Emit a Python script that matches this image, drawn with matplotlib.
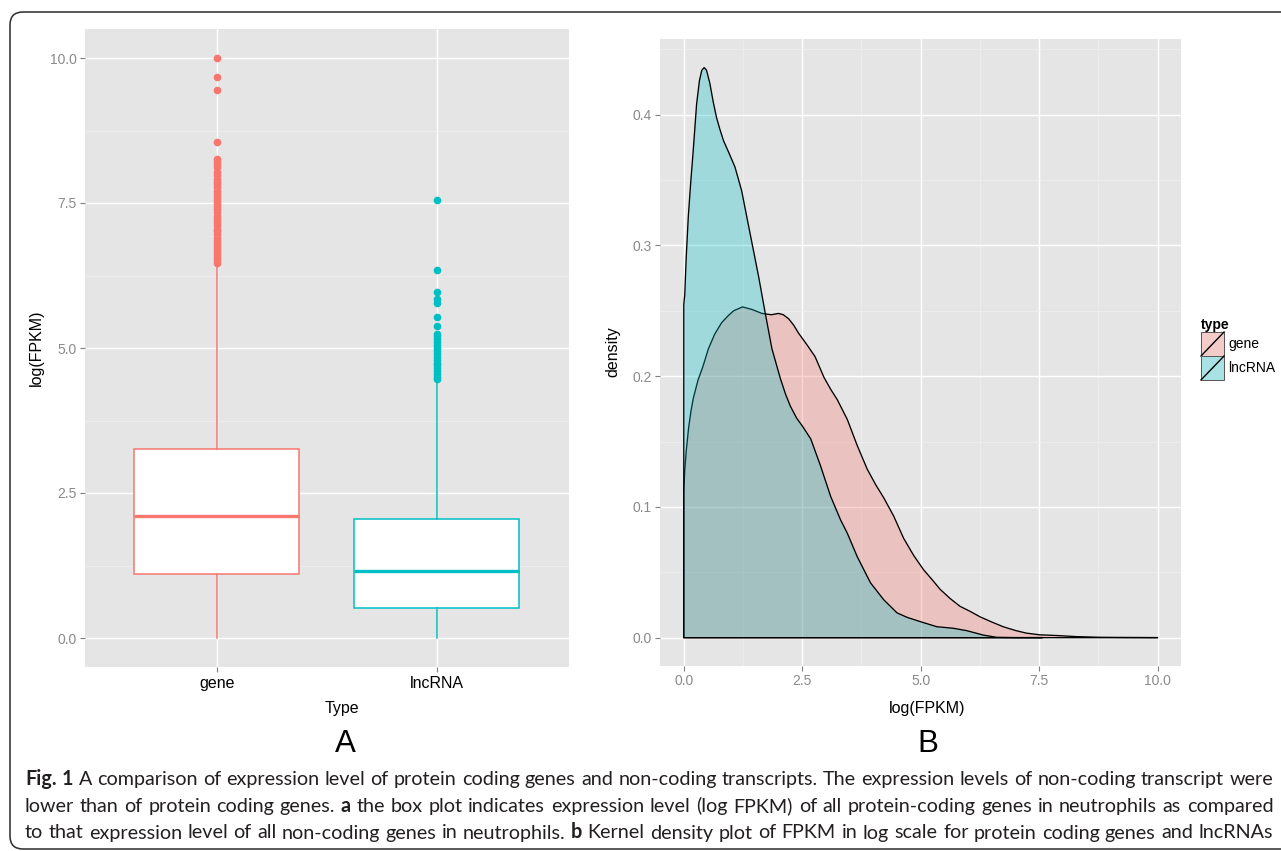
import matplotlib
matplotlib.use("Agg")
import matplotlib.pyplot as plt
from matplotlib.patches import Rectangle, Patch, FancyBboxPatch
from matplotlib.lines import Line2D
from matplotlib.legend_handler import HandlerBase
from matplotlib.ticker import MultipleLocator, FormatStrFormatter
from matplotlib.transforms import IdentityTransform
from matplotlib.colors import to_rgb

# ---------------------------------------------------------------------------
# data
# ---------------------------------------------------------------------------
categories = ["gene", "lncRNA"]
colors = ["#F8766D", "#00BFC4"]

# panel A: box plot of log(FPKM)
box_q1 = [1.10, 0.52]
box_median = [2.10, 1.15]
box_q3 = [3.26, 2.06]
whisker_low = [0.0, 0.0]
whisker_high = [6.45, 4.40]
gene_outliers = [10.0, 9.68, 9.44, 8.55, 8.26, 8.22, 8.17, 8.12, 8.03, 7.98,
                 7.92, 7.87, 7.82, 7.77, 7.71, 7.66, 7.61, 7.56, 7.50, 7.45,
                 7.40, 7.34, 7.28, 7.22, 7.17, 7.12, 7.06, 7.01, 6.96, 6.90,
                 6.85, 6.80, 6.75, 6.70, 6.65, 6.60, 6.55, 6.51, 6.47]
lnc_outliers = [7.56, 6.34, 5.97, 5.84, 5.78, 5.53, 5.38, 5.25, 5.20, 5.15,
                5.10, 5.05, 5.00, 4.95, 4.90, 4.85, 4.80, 4.75, 4.70, 4.65,
                4.60, 4.55, 4.50, 4.46]
box_yticks = [0.0, 2.5, 5.0, 7.5, 10.0]

# panel B: kernel density of log(FPKM)
gene_x = [0.0, 0.02, 0.05, 0.1, 0.15, 0.2, 0.3, 0.4, 0.52, 0.65, 0.8, 0.93,
          1.05, 1.24, 1.44, 1.65, 1.85, 2.0, 2.1, 2.21, 2.32, 2.42, 2.6,
          2.77, 2.96, 3.1, 3.24, 3.45, 3.66, 3.87, 4.05, 4.22, 4.43, 4.64,
          4.85, 5.06, 5.25, 5.41, 5.62, 5.83, 6.05, 6.25, 6.5, 6.74, 7.0,
          7.23, 7.51, 7.85, 8.3, 8.8, 9.3, 10.0]
gene_y = [0.112, 0.128, 0.142, 0.160, 0.173, 0.183, 0.197, 0.207, 0.221,
          0.232, 0.241, 0.246, 0.250, 0.253, 0.251, 0.248, 0.247, 0.248,
          0.247, 0.244, 0.239, 0.233, 0.224, 0.215, 0.199, 0.190, 0.182,
          0.167, 0.147, 0.129, 0.117, 0.107, 0.093, 0.076, 0.063, 0.052,
          0.044, 0.037, 0.030, 0.024, 0.020, 0.016, 0.012, 0.0084, 0.0055,
          0.0035, 0.0022, 0.0017, 0.0008, 0.0003, 0.0002, 0.0001]
lnc_x = [0.0, 0.02, 0.05, 0.095, 0.15, 0.2, 0.27, 0.33, 0.38, 0.43, 0.48,
         0.55, 0.62, 0.69, 0.76, 0.84, 0.95, 1.08, 1.22, 1.4, 1.58, 1.72,
         1.86, 2.04, 2.15, 2.25, 2.38, 2.5, 2.68, 2.89, 3.1, 3.31, 3.45,
         3.66, 3.94, 4.22, 4.5, 4.71, 4.99, 5.34, 5.69, 5.97, 6.32, 6.6,
         7.0, 7.57]
lnc_y = [0.255, 0.262, 0.290, 0.322, 0.350, 0.373, 0.408, 0.426, 0.434,
         0.436, 0.434, 0.424, 0.410, 0.398, 0.389, 0.380, 0.371, 0.360,
         0.342, 0.309, 0.276, 0.248, 0.221, 0.198, 0.186, 0.177, 0.168,
         0.162, 0.152, 0.131, 0.108, 0.090, 0.080, 0.062, 0.042, 0.029,
         0.019, 0.0156, 0.0123, 0.0084, 0.0072, 0.0054, 0.0020, 0.0003,
         0.0001, 0.0001]
dens_xticks = [0.0, 2.5, 5.0, 7.5, 10.0]
dens_yticks = [0.0, 0.1, 0.2, 0.3, 0.4]

caption_lines = [
    [("Fig.", True), ("1", True)] + [(w, False) for w in (
        "A comparison of expression level of protein coding genes and "
        "non-coding transcripts. The expression levels of non-coding "
        "transcript were").split()],
    [(w, False) for w in "lower than of protein coding genes.".split()]
    + [("a", True)] + [(w, False) for w in (
        "the box plot indicates expression level (log FPKM) of all "
        "protein-coding genes in neutrophils as compared").split()],
    [(w, False) for w in (
        "to that expression level of all non-coding genes in "
        "neutrophils.").split()]
    + [("b", True)] + [(w, False) for w in (
        "Kernel density plot of FPKM in log scale for protein coding genes "
        "and lncRNAs").split()],
]

# ---------------------------------------------------------------------------
W, H = 1281, 851
PANEL = "#E5E5E5"
TICK_GREY = "#8A8A8A"
FONT = "Liberation Sans"

plt.rcParams["font.family"] = [FONT, "DejaVu Sans"]


def fx(x):
    return x / W


def fy(y):
    return 1 - y / H


def gg_axes(ax):
    ax.set_facecolor(PANEL)
    for s in ax.spines.values():
        s.set_visible(False)
    ax.set_axisbelow(True)
    ax.grid(which="major", color="white", lw=1.0)
    ax.grid(which="minor", color="#F0F0F0", lw=0.5)
    ax.tick_params(which="major", length=3.6, width=0.8, color="#7F7F7F",
                   labelcolor=TICK_GREY, labelsize=10, pad=2.2)
    ax.tick_params(which="minor", length=0)


fig = plt.figure(figsize=(W / 100, H / 100), dpi=100)

# ---- panel A --------------------------------------------------------------
ax1 = fig.add_axes([fx(84.7), fy(667), (568.6 - 84.7) / W, (667 - 29) / H])
gg_axes(ax1)
stats = []
for i, name in enumerate(categories):
    stats.append(dict(label=name, q1=box_q1[i], med=box_median[i],
                      q3=box_q3[i], whislo=whisker_low[i],
                      whishi=whisker_high[i],
                      fliers=[gene_outliers, lnc_outliers][i]))
arts = ax1.bxp(stats, positions=[1, 2], widths=0.75, patch_artist=True,
               showcaps=False)
for i, c in enumerate(colors):
    arts["boxes"][i].set(facecolor="white", edgecolor=c, lw=1.1)
    arts["medians"][i].set(color=c, lw=2.4, solid_capstyle="butt")
    for w in arts["whiskers"][2 * i:2 * i + 2]:
        w.set(color=c, lw=1.1)
    arts["fliers"][i].set(marker="o", markerfacecolor=c, markeredgecolor=c,
                          markersize=4.5)
ax1.set_xlim(0.4, 2.6)
ax1.set_ylim(-0.5, 10.5)
ax1.set_xticks([1, 2], categories)
ax1.set_yticks(box_yticks)
ax1.yaxis.set_major_formatter(FormatStrFormatter("%.1f"))
ax1.yaxis.set_minor_locator(MultipleLocator(1.25))
ax1.tick_params(axis="x", labelcolor="black", labelsize=11.5, pad=3)

# ---- panel B --------------------------------------------------------------
ax2 = fig.add_axes([fx(660.1), fy(666.2), (1181.3 - 660.1) / W,
                    (666.2 - 39.1) / H])
gg_axes(ax2)
handles = []
for xs, ys, c, name in [(gene_x, gene_y, colors[0], categories[0]),
                        (lnc_x, lnc_y, colors[1], categories[1])]:
    px = [xs[0]] + xs + [xs[-1]]
    py = [0.0] + ys + [0.0]
    fc = (*to_rgb(c), 0.3)
    ax2.fill(px, py, facecolor=fc, edgecolor="black", lw=0.95,
             joinstyle="round")
    handles.append(Patch(facecolor=fc, label=name))
ax2.set_xlim(-0.5, 10.5)
ax2.set_ylim(-0.0218, 0.4578)
ax2.set_xticks(dens_xticks)
ax2.set_yticks(dens_yticks)
ax2.xaxis.set_major_formatter(FormatStrFormatter("%.1f"))
ax2.yaxis.set_major_formatter(FormatStrFormatter("%.1f"))
ax2.xaxis.set_minor_locator(MultipleLocator(1.25))
ax2.yaxis.set_minor_locator(MultipleLocator(0.05))


class KeyHandler(HandlerBase):
    def create_artists(self, legend, orig, xdescent, ydescent, width, height,
                       fontsize, trans):
        x0, y0 = -xdescent, -ydescent
        bg = Rectangle((x0, y0), width, height, facecolor="#F2F2F2",
                       edgecolor="none", transform=trans)
        box = Rectangle((x0, y0), width, height,
                        facecolor=orig.get_facecolor(), edgecolor="#555555",
                        lw=0.7, transform=trans)
        diag = Line2D([x0, x0 + width], [y0, y0 + height], color="black",
                      lw=1.0, transform=trans)
        return [bg, box, diag]


leg = ax2.legend(handles=handles, title="type", loc="upper left",
                 bbox_to_anchor=(fx(1201), fy(318)),
                 bbox_transform=fig.transFigure, frameon=False,
                 borderpad=0, borderaxespad=0, labelspacing=0,
                 handlelength=1.66, handleheight=2.28, handletextpad=0.3,
                 fontsize=10, alignment="left",
                 title_fontproperties={"weight": "bold", "size": 10},
                 handler_map={Patch: KeyHandler()})

# ---- axis titles & panel letters -----------------------------------------
fig.text(fx(36), fy(348), "log(FPKM)", rotation=90, ha="center",
         va="center", fontsize=11.5)
fig.text(fx(613), fy(352), "density", rotation=90, ha="center",
         va="center", fontsize=11.5)
fig.text(fx(342), fy(713.5), "Type", ha="center", va="baseline",
         fontsize=11.5)
fig.text(fx(927), fy(713), "log(FPKM)", ha="center", va="baseline",
         fontsize=11.5)
fig.text(fx(345), fy(752.5), "A", ha="center", va="baseline", fontsize=22.5)
fig.text(fx(928), fy(752.5), "B", ha="center", va="baseline", fontsize=22.5)

# ---- caption (justified) ---------------------------------------------------
cap_col = "#231F20"
cap_font = ["Lato", "DejaVu Sans"]
x_left, x_right = 25, 1273
baselines = [785, 812, 838.5]
renderer = fig.canvas.get_renderer()

base_size = 13.4
space_px = 0.22 * base_size * 100 / 72
natural = []
measured = []
for line in caption_lines:
    ws = []
    for word, bold in line:
        t = fig.text(0, 0, word, fontsize=base_size, family=cap_font,
                     fontweight="bold" if bold else "normal")
        ws.append(t.get_window_extent(renderer).width)
        t.remove()
    measured.append(ws)
    natural.append(sum(ws) + space_px * (len(ws) - 1))
# grow/shrink so the longest line fills the column with normal word spacing
scale = min(14.2 / base_size, (x_right - x_left) / max(natural))
cap_size = base_size * scale

for line, ws, yb in zip(caption_lines, measured, baselines):
    ws = [w * scale for w in ws]
    gap = (x_right - x_left - sum(ws)) / (len(ws) - 1)
    x = x_left
    for (word, bold), w in zip(line, ws):
        fig.text(fx(x), fy(yb), word, fontsize=cap_size, family=cap_font,
                 fontweight="bold" if bold else "normal", color=cap_col,
                 ha="left", va="baseline")
        x += w + gap

# ---- rounded frame around the whole figure --------------------------------
frame = FancyBboxPatch((10, H - 849), 1300, 837,
                       boxstyle="round,pad=0,rounding_size=13",
                       transform=IdentityTransform(), facecolor="none",
                       edgecolor="#333333", lw=1.15)
fig.add_artist(frame)

fig.savefig("out.png", dpi=100)
